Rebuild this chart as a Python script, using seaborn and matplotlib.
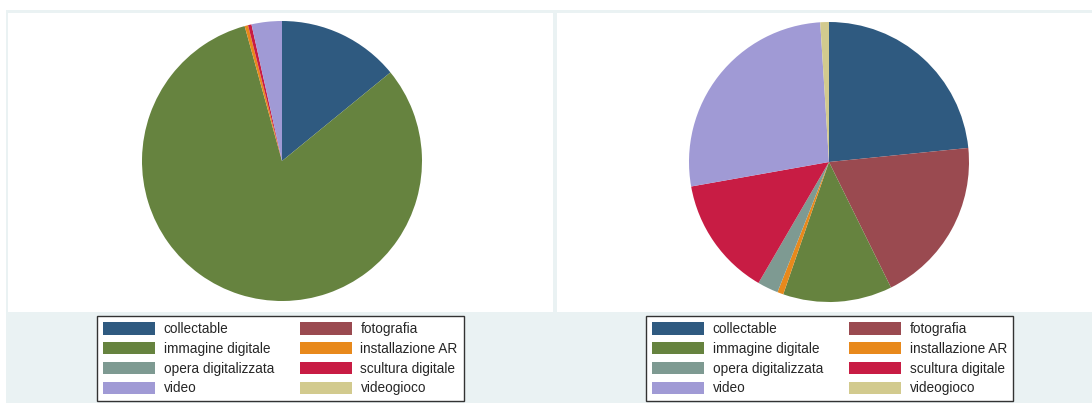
import matplotlib
matplotlib.use("Agg")
import matplotlib.pyplot as plt
from matplotlib.patches import Rectangle, Patch
import seaborn as sns

# Category labels (legend order, clockwise order of the slices)
categories = [
    "collectable", "fotografia", "immagine digitale", "installazione AR",
    "opera digitalizzata", "scultura digitale", "video", "videogioco",
]
# Percentage share of each category, one pie per panel
shares_left = [14.1, 0.0, 81.6, 0.4, 0.0, 0.4, 3.5, 0.0]
shares_right = [23.4, 19.3, 12.6, 0.7, 2.4, 13.8, 26.8, 1.0]

sns.set_style("white")
plt.rcParams["font.family"] = ["Liberation Sans", "DejaVu Sans"]

palette = sns.color_palette([
    "#2F5A80", "#9A4A50", "#66833F", "#E8891C",
    "#7E9A92", "#C81C44", "#A09AD5", "#D2CA8E",
])

W, H = 1092, 403
fig = plt.figure(figsize=(W / 100, H / 100), dpi=100, facecolor="white")

GRAPH_BG = "#EAF2F3"


def px_rect(x0, y0, x1, y1, color):
    """Figure-level rectangle given in top-down pixel coordinates."""
    fig.patches.append(Rectangle((x0 / W, 1 - y1 / H), (x1 - x0) / W, (y1 - y0) / H,
                                 transform=fig.transFigure, facecolor=color,
                                 edgecolor="none", zorder=-10))


# graph regions (light) and white plot regions
px_rect(6, 10, 556, H, GRAPH_BG)
px_rect(553, 10, W, H, GRAPH_BG)
px_rect(8, 13, 553, 312, "white")
px_rect(557, 13, W, 312, "white")

# legend entries laid out row by row in two columns
order = [0, 2, 4, 6, 1, 3, 5, 7]


def draw_panel(shares, cx, cy, r, legend_box):
    ax = fig.add_axes([(cx - r) / W, 1 - (cy + r) / H, 2 * r / W, 2 * r / H])
    ax.set_zorder(5)
    ax.pie(shares, colors=palette, startangle=90, counterclock=False,
           wedgeprops=dict(linewidth=0))
    ax.set_xlim(-1, 1)
    ax.set_ylim(-1, 1)
    ax.set_aspect("equal")
    ax.axis("off")

    handles = [Patch(facecolor=palette[i], edgecolor="none") for i in order]
    labels = [categories[i] for i in order]
    x0, y0 = legend_box
    leg = fig.legend(handles, labels, ncol=2, loc="upper left",
                     bbox_to_anchor=(x0 / W, 1 - y0 / H),
                     fontsize=9.8, handlelength=3.8, handleheight=1.0,
                     handletextpad=0.65, columnspacing=1.9,
                     labelspacing=0.42, borderpad=0.45, borderaxespad=0,
                     frameon=True, fancybox=False, shadow=False)
    leg.set_zorder(6)
    frame = leg.get_frame()
    frame.set_edgecolor("#333333")
    frame.set_linewidth(1.0)
    frame.set_facecolor("white")
    frame.set_alpha(1)


draw_panel(shares_left, 282, 161, 140, (97, 316))
draw_panel(shares_right, 829, 162, 140, (646, 316))

fig.savefig("out.png", dpi=100, facecolor="white")
